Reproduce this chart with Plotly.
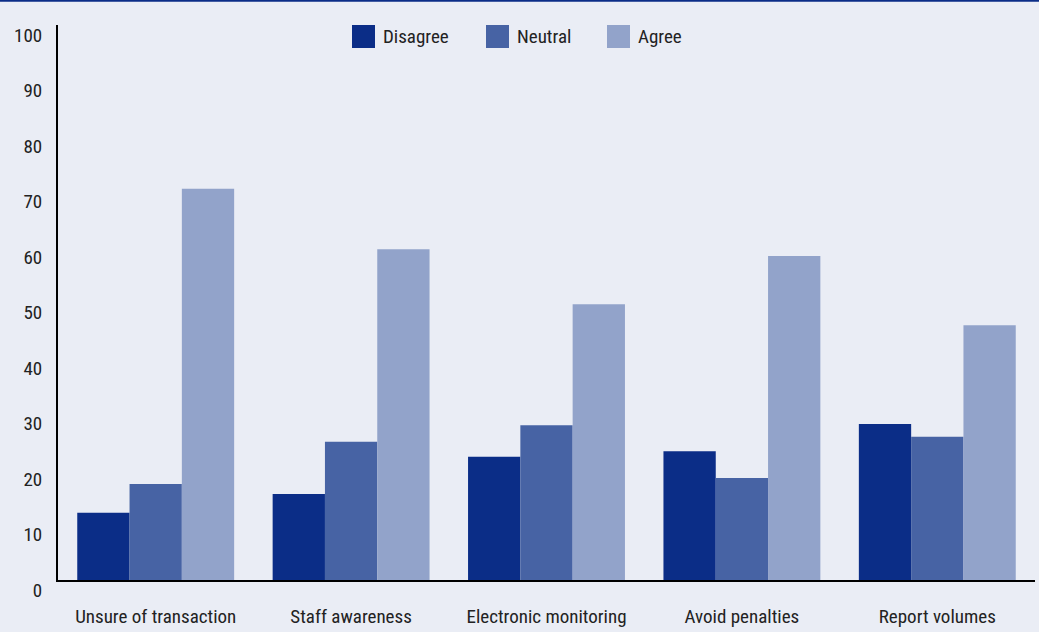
import plotly.graph_objects as go

categories = ["Unsure of transaction", "Staff awareness", "Electronic monitoring",
              "Avoid penalties", "Report volumes"]
disagree = [12.1, 15.5, 22.2, 23.2, 28.1]
neutral = [17.3, 24.9, 27.9, 18.4, 25.8]
agree = [70.5, 59.6, 49.7, 58.4, 45.9]
y_ticks = [0, 10, 20, 30, 40, 50, 60, 70, 80, 90, 100]

series = [("Disagree", disagree, "#0b2d87"),
          ("Neutral", neutral, "#4763a4"),
          ("Agree", agree, "#92a3ca")]

BG = "#eaedf5"
FONT = "Liberation Sans Narrow, Arial Narrow, Roboto Condensed, Arial, sans-serif"
W, H = 1039, 632
L, R, T, B = 58, 4, 25, 52

fig = go.Figure()
for name, vals, col in series:
    fig.add_trace(go.Bar(x=categories, y=vals, name=name, marker_color=col,
                         marker_line_width=0, showlegend=False))

pw = W - L - R
ph = H - T - B
def px(x):
    return (x - L) / pw
def py(y):
    return (H - B - y) / ph

shapes = []
annotations = []
# manual legend
leg_x = [352, 486, 607]
for (name, vals, col), lx in zip(series, leg_x):
    shapes.append(dict(type="rect", xref="paper", yref="paper",
                       x0=px(lx), x1=px(lx + 23), y0=py(48), y1=py(25),
                       fillcolor=col, line_width=0))
    annotations.append(dict(text=name, xref="paper", yref="paper",
                            x=px(lx + 29), y=py(36.5), xanchor="left", yanchor="middle",
                            showarrow=False, font=dict(size=19, color="#222222", family=FONT)))
# top blue rule
shapes.append(dict(type="line", xref="paper", yref="paper",
                   x0=px(0), x1=px(W), y0=py(0.8), y1=py(0.8),
                   line=dict(color="#0b2d87", width=2)))

fig.update_layout(
    width=W, height=H,
    margin=dict(l=L, r=R, t=T, b=B, autoexpand=False),
    paper_bgcolor=BG, plot_bgcolor=BG,
    barmode="group", bargap=0.197, bargroupgap=0,
    font=dict(family=FONT, size=19, color="#222222"),
    shapes=shapes, annotations=annotations,
    xaxis=dict(showline=True, linecolor="#000000", linewidth=2, showgrid=False,
               ticks="", ticklabelstandoff=18, tickfont=dict(size=19), automargin=False),
    yaxis=dict(range=[0, 100], tickvals=y_ticks, showline=True, linecolor="#000000",
               linewidth=2, showgrid=False, zeroline=False, ticks="", automargin=False,
               ticklabelstandoff=10, ticklabelshift=10, tickfont=dict(size=19)),
)

fig.write_html("out.html")
